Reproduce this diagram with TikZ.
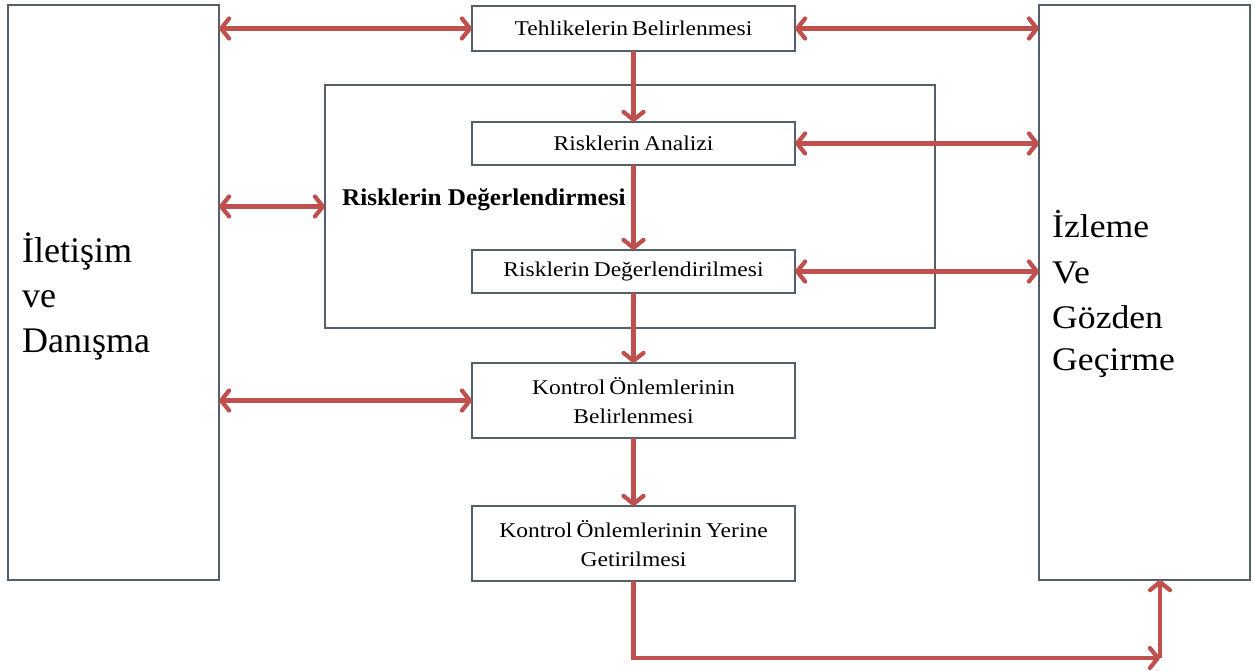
\documentclass[tikz,border=0pt]{standalone}
\usepackage{fontspec}
\setmainfont{Liberation Serif}
\newfontfamily\boxfont[FakeStretch=1.12,WordSpace=0.7]{Liberation Serif}
\newfontfamily\boldfont[FakeStretch=1.05]{Liberation Serif}
\newfontfamily\leftfont{Liberation Serif}
\newfontfamily\rightfont[FakeStretch=1.08]{Liberation Serif}
\usetikzlibrary{arrows.meta}
\definecolor{arrred}{RGB}{192,80,77}
\definecolor{boxgray}{RGB}{85,95,105}
\begin{document}
\begin{tikzpicture}[x=1pt,y=-1pt,
  box/.style={draw=boxgray, line width=1.2pt, inner sep=0pt, outer sep=0pt, align=center,
    minimum width=323pt, font=\boxfont\fontsize{21}{29}\selectfont},
  bigbox/.style={draw=boxgray, line width=1.2pt, inner sep=0pt, outer sep=0pt,
    minimum width=211pt, minimum height=575pt},
  tip/.tip={Straight Barb[length=8pt,width=20pt,round]},
  arr/.style={draw=arrred, line width=4.2pt, -tip},
  darr/.style={draw=arrred, line width=4.2pt, tip-tip},
  lefttxt/.style={anchor=base west, inner sep=0pt, font=\leftfont\fontsize{36}{40}\selectfont},
  righttxt/.style={anchor=base west, inner sep=0pt, font=\rightfont\fontsize{33}{36}\selectfont}]
\useasboundingbox (0,0) rectangle (1255,671);
\fill[white] (0,0) rectangle (1255,671);

% side boxes
\node[bigbox] (L) at (113.5,292.5) {};
\node[bigbox] (R) at (1144.5,292.5) {};

% outer assessment box
\node[draw=boxgray, line width=1.2pt, inner sep=0pt, outer sep=0pt,
  minimum width=610pt, minimum height=243pt] (O) at (630,206.5) {};

% process boxes
\node[box, minimum height=45pt] (T) at (633.5,28.5) {Tehlikelerin Belirlenmesi};
\node[box, minimum height=43pt] (A) at (633.5,143.5) {Risklerin Analizi};
\node[box, minimum height=43pt] (D) at (633.5,271.5) {Risklerin Değerlendirilmesi};
\node[box, minimum height=75pt] (K1) at (633.5,400.5) {Kontrol Önlemlerinin\\Belirlenmesi};
\node[box, minimum height=75pt] (K2) at (633.5,543.5) {Kontrol Önlemlerinin Yerine\\Getirilmesi};

% bold label
\node[anchor=base west, inner sep=0pt, font=\boldfont\bfseries\fontsize{24}{28}\selectfont] (lab) at (342,206) {Risklerin Değerlendirmesi};

% side texts
\node[lefttxt] (l1) at (22,262) {İletişim};
\node[lefttxt] (l2) at (22,307) {ve};
\node[lefttxt] (l3) at (22,352) {Danışma};
\node[righttxt] (r1) at (1052,237) {İzleme};
\node[righttxt] (r2) at (1052,283) {Ve};
\node[righttxt] (r3) at (1052,328) {Gözden};
\node[righttxt] (r4) at (1052,370) {Geçirme};

% vertical flow
\draw[arr] (T.south) -- (A.north);
\draw[arr] (A.south) -- (D.north);
\draw[arr] (D.south) -- (K1.north);
\draw[arr] (K1.south) -- (K2.north);

% horizontal double arrows
\draw[darr] (L.east |- T.center) -- (T.west);
\draw[darr] (T.east) -- (R.west |- T.center);
\draw[darr] (A.east) -- (R.west |- A.center);
\draw[darr] (D.east) -- (R.west |- D.center);
\draw[darr] (L.east |- O.center) -- (O.west);
\draw[darr] (L.east |- K1.center) -- (K1.west);

% bottom return
\coordinate (c) at (1160,658);
\draw[arr] (K2.south) |- (c);
\draw[arr] (c) -- (c |- R.south);
\end{tikzpicture}
\end{document}
